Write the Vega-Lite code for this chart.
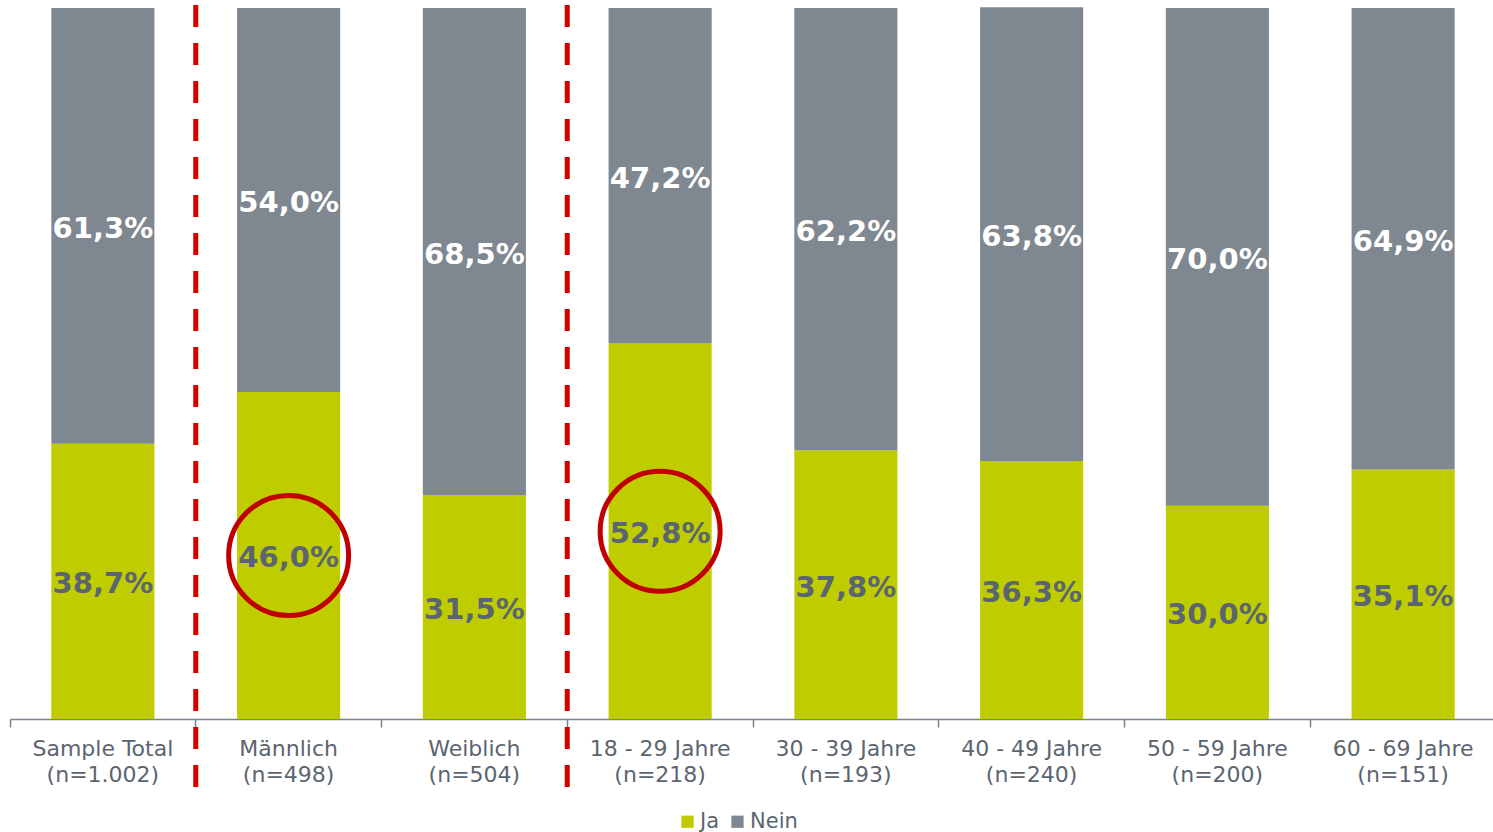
{
  "$schema": "https://vega.github.io/schema/vega-lite/v6.json",
  "width": 1483,
  "height": 711,
  "autosize": {"type": "none"},
  "padding": {"left": 10, "top": 8, "right": 0, "bottom": 113},
  "background": "white",
  "config": {"view": {"stroke": null}},
  "datasets": {
    "main": [
      {"cat": "Sample Total|(n=1.002)", "series": "Ja", "value": 38.7},
      {"cat": "Sample Total|(n=1.002)", "series": "Nein", "value": 61.3},
      {"cat": "Männlich|(n=498)", "series": "Ja", "value": 46.0},
      {"cat": "Männlich|(n=498)", "series": "Nein", "value": 54.0},
      {"cat": "Weiblich|(n=504)", "series": "Ja", "value": 31.5},
      {"cat": "Weiblich|(n=504)", "series": "Nein", "value": 68.5},
      {"cat": "18 - 29 Jahre|(n=218)", "series": "Ja", "value": 52.8},
      {"cat": "18 - 29 Jahre|(n=218)", "series": "Nein", "value": 47.2},
      {"cat": "30 - 39 Jahre|(n=193)", "series": "Ja", "value": 37.8},
      {"cat": "30 - 39 Jahre|(n=193)", "series": "Nein", "value": 62.2},
      {"cat": "40 - 49 Jahre|(n=240)", "series": "Ja", "value": 36.3},
      {"cat": "40 - 49 Jahre|(n=240)", "series": "Nein", "value": 63.8},
      {"cat": "50 - 59 Jahre|(n=200)", "series": "Ja", "value": 30.0},
      {"cat": "50 - 59 Jahre|(n=200)", "series": "Nein", "value": 70.0},
      {"cat": "60 - 69 Jahre|(n=151)", "series": "Ja", "value": 35.1},
      {"cat": "60 - 69 Jahre|(n=151)", "series": "Nein", "value": 64.9}
    ],
    "dividers": [
      {"cat": "Männlich|(n=498)"},
      {"cat": "18 - 29 Jahre|(n=218)"}
    ]
  },
  "data": {"name": "main"},
  "transform": [
    {"stack": "value", "groupby": ["cat"], "sort": [{"field": "series", "order": "ascending"}], "as": ["y0", "y1"]},
    {"calculate": "(datum.y0 + datum.y1) / 2", "as": "ymid"},
    {"calculate": "replace(format(datum.value, '.1f'), '.', ',') + '%'", "as": "label"}
  ],
  "resolve": {"axis": {"x": "independent"}},
  "layer": [
    {
      "mark": {"type": "bar", "width": {"band": 0.555}},
      "encoding": {
        "x": {
          "field": "cat",
          "type": "nominal",
          "sort": null,
          "scale": {"paddingInner": 0, "paddingOuter": 0, "range": [0, 1486]},
          "axis": {
            "orient": "bottom",
            "title": null,
            "labelAngle": 0,
            "ticks": false,
            "labelExpr": "split(datum.label, '|')",
            "labelFont": "DejaVu Sans",
            "labelFontSize": 22,
            "labelLineHeight": 26,
            "labelColor": "#5b6570",
            "labelPadding": 19,
            "labelOverlap": false,
            "labelFlush": false,
            "labelBound": false,
            "domainColor": "#7a828c",
            "domainWidth": 1.5
          }
        },
        "y": {"field": "y0", "type": "quantitative", "scale": {"domain": [0, 100], "nice": false}, "axis": null},
        "y2": {"field": "y1"},
        "color": {
          "field": "series",
          "type": "nominal",
          "scale": {"domain": ["Ja", "Nein"], "range": ["#bfcd00", "#7f8790"]},
          "legend": {
            "title": null,
            "orient": "none",
            "direction": "horizontal",
            "legendX": 667,
            "legendY": 803,
            "symbolType": "square",
            "symbolSize": 150,
            "symbolStrokeWidth": 0,
            "labelFont": "DejaVu Sans",
            "labelFontSize": 21,
            "labelColor": "#5b6570",
            "labelOffset": 2,
            "columnPadding": 7
          }
        }
      }
    },
    {
      "mark": {"type": "text", "font": "DejaVu Sans", "fontWeight": "bold", "fontSize": 29, "baseline": "middle", "align": "center", "dy": 3},
      "encoding": {
        "x": {"field": "cat", "type": "nominal", "sort": null,
          "axis": {
            "orient": "bottom",
            "title": null,
            "labels": false,
            "domain": false,
            "bandPosition": 0,
            "tickColor": "#7a828c",
            "tickWidth": 1.5,
            "tickSize": 8
          }
        },
        "y": {"field": "ymid", "type": "quantitative"},
        "text": {"field": "label"},
        "color": {"condition": {"test": "datum.series == 'Nein'", "value": "#ffffff"}, "value": "#5b6570"}
      }
    },
    {
      "transform": [{"filter": "datum.series == 'Ja' && (datum.cat == 'Männlich|(n=498)' || datum.cat == '18 - 29 Jahre|(n=218)')"}],
      "mark": {"type": "point", "shape": "circle", "filled": false, "stroke": "#c00000", "strokeWidth": 5, "size": 14400, "opacity": 1},
      "encoding": {
        "x": {"field": "cat", "type": "nominal", "sort": null, "axis": null},
        "y": {"field": "ymid", "type": "quantitative"}
      }
    },
    {
      "data": {"name": "dividers"},
      "transform": [],
      "mark": {"type": "rule", "color": "#d40000", "strokeWidth": 5, "strokeDash": [22, 16]},
      "encoding": {
        "x": {"field": "cat", "type": "nominal", "sort": null, "bandPosition": 0, "axis": null},
        "y": {"datum": 100.42},
        "y2": {"datum": -9.85}
      }
    }
  ]
}
